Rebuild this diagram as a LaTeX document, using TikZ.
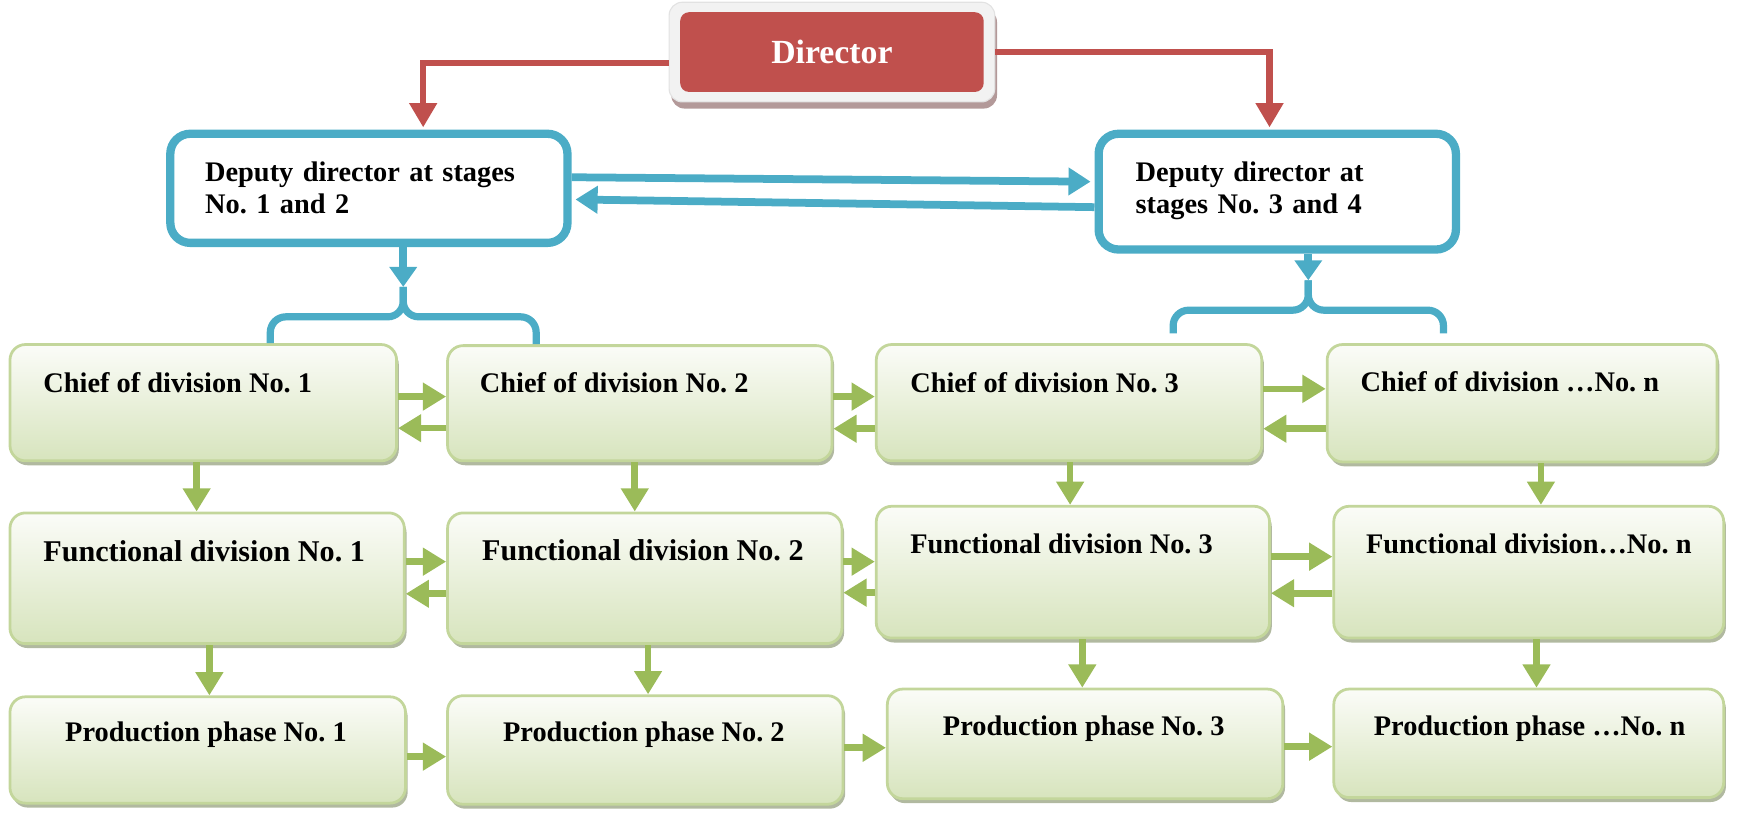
\documentclass[tikz,border=0pt]{standalone}
\usepackage{fontspec}
\setmainfont{Liberation Serif}
\usetikzlibrary{arrows.meta,shadows}
\frenchspacing
\definecolor{accblue}{HTML}{4BACC6}
\definecolor{accred}{HTML}{C0504D}
\definecolor{accgreen}{HTML}{9BBB59}
\definecolor{gborder}{HTML}{C3D69B}
\definecolor{gtop}{HTML}{FBFCF8}
\definecolor{gbot}{HTML}{D7E4BD}
\definecolor{gshadow}{HTML}{A3AD8F}
\definecolor{frameback}{HTML}{F2F2F2}
\definecolor{frameline}{HTML}{E2E2E2}
\definecolor{dshadow}{HTML}{B39999}
\tikzset{
  gbox/.style={draw=gborder, line width=2.5pt, rounded corners=14pt, top color=gtop, bottom color=gbot, inner sep=0pt,
    drop shadow={shadow xshift=2pt, shadow yshift=-4pt, fill=gshadow, opacity=0.85}},
  depbox/.style={draw=accblue, line width=7.5pt, rounded corners=18pt, fill=white, inner sep=0pt},
  dirframe/.style={draw=frameline, line width=1pt, fill=frameback, rounded corners=12pt, inner sep=0pt,
    drop shadow={shadow xshift=2pt, shadow yshift=-6pt, fill=dshadow, opacity=1}},
  dirbox/.style={fill=accred, rounded corners=8pt, inner sep=0pt, text=white, font=\fontsize{30.5}{34}\selectfont\bfseries},
  lab/.style={inner sep=0pt, anchor=base west, font=\fontsize{25.6}{28.5}\selectfont\bfseries},
  labbig/.style={lab, font=\fontsize{27.2}{30}\selectfont\bfseries},
  garrow/.style={draw=accgreen, line width=6pt, -{Triangle[width=24pt,length=21pt]}},
  barrow/.style={draw=accblue, line width=7pt, -{Triangle[width=24pt,length=20pt]}},
  rarrow/.style={draw=accred, line width=5.5pt, -{Triangle[width=24pt,length=22pt]}},
  bracepath/.style={draw=accblue, line width=6.5pt, rounded corners=14pt},
}
\begin{document}
\begin{tikzpicture}[x=1pt,y=-1pt]
\useasboundingbox (0,0) rectangle (1568,734);

% Director
\node[dirframe, minimum width=294pt, minimum height=90pt] (dir) at (751,47) {};
\node[dirbox, minimum width=274pt, minimum height=72pt] (dirin) at (751,47) {Director};

% Deputies
\node[depbox, minimum width=358.5pt, minimum height=98.5pt] (dep1) at (333,170) {};
\node[lab, text width=330pt, align=left] (dep1t) at (185,164) {Deputy director at stages\\No. 1 and 2};
\node[depbox, minimum width=322.5pt, minimum height=104.5pt] (dep2) at (1153,173) {};
\node[lab, text width=280pt, align=left] (dep2t) at (1025,164) {Deputy director at\\stages No. 3 and 4};

% Green boxes
\node[gbox, minimum width=349pt, minimum height=105pt] (c1) at (183.5,363.5) {};
\node[gbox, minimum width=347pt, minimum height=104pt] (c2) at (577.5,364) {};
\node[gbox, minimum width=348pt, minimum height=105pt] (c3) at (965,363.5) {};
\node[gbox, minimum width=352pt, minimum height=106pt] (c4) at (1374,364) {};
\node[gbox, minimum width=356pt, minimum height=118pt] (f1) at (187,522) {};
\node[gbox, minimum width=356pt, minimum height=118pt] (f2) at (582,522) {};
\node[gbox, minimum width=355pt, minimum height=119pt] (f3) at (968.5,516.5) {};
\node[gbox, minimum width=352pt, minimum height=119pt] (f4) at (1380,516.5) {};
\node[gbox, minimum width=357pt, minimum height=96pt] (p1) at (187.5,677) {};
\node[gbox, minimum width=357pt, minimum height=98pt] (p2) at (582.5,677) {};
\node[gbox, minimum width=357pt, minimum height=99pt] (p3) at (979.5,671.5) {};
\node[gbox, minimum width=352pt, minimum height=98pt] (p4) at (1380,671) {};

\node[lab] (c1t) at (39,354) {Chief of division No. 1};
\node[lab] (c2t) at (433,354) {Chief of division No. 2};
\node[lab] (c3t) at (821.5,354) {Chief of division No. 3};
\node[lab] (c4t) at (1228,353.6) {Chief of division …No. n};
\node[labbig] (f1t) at (39,507) {Functional division No. 1};
\node[labbig] (f2t) at (435,506) {Functional division No. 2};
\node[lab] (f3t) at (821.5,499.5) {Functional division No. 3};
\node[lab] (f4t) at (1233,499.5) {Functional division…No. n};
\node[lab] (p1t) at (58.7,669.5) {Production phase No. 1};
\node[lab] (p2t) at (454,669.5) {Production phase No. 2};
\node[lab] (p3t) at (851,663.5) {Production phase No. 3};
\node[lab] (p4t) at (1240,663.5) {Production phase …No. n};

% Red connectors
\draw[rarrow, shorten >=2pt] (dir.west |- 0,56.6) -| (dep1.north -| 382,0);
\draw[rarrow, shorten >=2pt] (dir.east |- 0,46.6) -| (dep2.north -| 1146,0);

% Blue connectors
\draw[barrow, shorten >=3.5pt] (dep1.east |- 0,160) -- (dep2.west |- 0,164);
\draw[barrow, shorten >=3.5pt] (dep2.west |- 0,187) -- (dep1.east |- 0,180);
\coordinate (k1) at (364,259);
\coordinate (k2) at (1181,253);
\coordinate (e3) at (1059,301);
\coordinate (e4) at (1303,301);
\draw[bracepath] (c1.north -| 244,0) -- (244,286) -- (364,286) -- (k1);
\draw[bracepath] (c2.north -| 484,0) -- (484,286) -- (364,286) -- (k1);
\draw[bracepath] (e3) -- (1059,280) -- (1181,280) -- (k2);
\draw[bracepath] (e4) -- (1303,280) -- (1181,280) -- (k2);
\draw[barrow, -{Triangle[width=24pt,length=18pt]}] (dep1.south -| k1) -- (k1);
\draw[barrow, -{Triangle[width=24pt,length=18pt]}] (dep2.south -| k2) -- (k2);

% Green connectors: chiefs
\draw[garrow] (c1.east |- 0,358) -- (c2.west |- 0,358);
\draw[garrow] (c2.west |- 0,386.5) -- (c1.east |- 0,386.5);
\draw[garrow] (c2.east |- 0,358) -- (c3.west |- 0,358);
\draw[garrow] (c3.west |- 0,387) -- (c2.east |- 0,387);
\draw[garrow] (c3.east |- 0,351) -- (c4.west |- 0,351);
\draw[garrow] (c4.west |- 0,387) -- (c3.east |- 0,387);
% functional
\draw[garrow] (f1.east |- 0,507) -- (f2.west |- 0,507);
\draw[garrow] (f2.west |- 0,536) -- (f1.east |- 0,536);
\draw[garrow] (f2.east |- 0,507) -- (f3.west |- 0,507);
\draw[garrow] (f3.west |- 0,535) -- (f2.east |- 0,535);
\draw[garrow] (f3.east |- 0,502.5) -- (f4.west |- 0,502.5);
\draw[garrow] (f4.west |- 0,535.5) -- (f3.east |- 0,535.5);
% production
\draw[garrow] (p1.east |- 0,683) -- (p2.west |- 0,683);
\draw[garrow] (p2.east |- 0,675) -- (p3.west |- 0,675);
\draw[garrow] (p3.east |- 0,674) -- (p4.west |- 0,674);
% vertical
\draw[garrow] (c1.south -| 177.5,0) -- (f1.north -| 177.5,0);
\draw[garrow] (c2.south -| 573,0) -- (f2.north -| 573,0);
\draw[garrow] (c3.south -| 966,0) -- (f3.north -| 966,0);
\draw[garrow] (c4.south -| 1391,0) -- (f4.north -| 1391,0);
\draw[garrow] (f1.south -| 189,0) -- (p1.north -| 189,0);
\draw[garrow] (f2.south -| 585,0) -- (p2.north -| 585,0);
\draw[garrow] (f3.south -| 977,0) -- (p3.north -| 977,0);
\draw[garrow] (f4.south -| 1387,0) -- (p4.north -| 1387,0);
\end{tikzpicture}
\end{document}
